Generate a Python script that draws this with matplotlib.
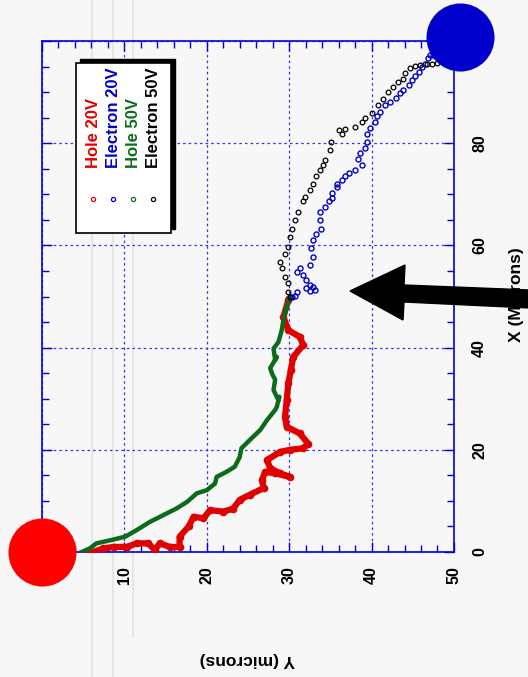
import numpy as np
import matplotlib
matplotlib.use("Agg")
import matplotlib.pyplot as plt
from matplotlib.lines import Line2D
from matplotlib.patches import Polygon, Rectangle
from matplotlib.transforms import Affine2D

plt.rcParams['font.family'] = ['Liberation Sans', 'DejaVu Sans']
plt.rcParams['font.weight'] = 'bold'

# drift paths, (Y, X) in microns
hole20_y = [5.6, 6.2, 7.4, 8.7, 10.3, 11.5, 12.9, 13.7, 14.3, 15.5, 16.7, 16.7, 17.8,
            18.4, 19.6, 20.4, 22.0, 23.2, 24.0, 25.2, 26.9, 26.7, 27.1, 28.3, 30.1,
            28.9, 27.7, 27.3, 28.9, 30.1, 31.7, 32.3, 31.3, 29.7, 29.5, 29.7, 29.9,
            30.2, 30.5, 31.7, 31.3, 29.9, 29.3, 29.9]
hole20_x = [0.0, 0.0, 0.7, 1.0, 1.0, 1.7, 1.7, 0.4, 1.7, 1.0, 1.0, 3.0, 5.0,
            6.9, 6.6, 8.2, 7.9, 8.5, 10.2, 11.2, 12.5, 14.1, 15.7, 15.4, 14.7,
            15.4, 16.4, 18.0, 19.6, 20.0, 20.3, 21.2, 23.2, 24.5, 26.5, 29.7, 33.0,
            35.6, 38.2, 40.5, 42.1, 43.4, 46.0, 49.3]

hole50_y = [4.8, 5.8, 6.6, 8.3, 10.1, 11.5, 13.1, 14.7, 16.3, 17.6, 18.8, 20.0, 21.0,
            21.2, 22.4, 23.4, 24.0, 24.2, 25.4, 26.5, 27.3, 28.3, 28.5, 28.8, 28.7,
            28.1, 28.3, 27.9, 27.7, 28.5, 28.3, 28.1, 28.7, 29.1, 29.3, 29.7, 30.1]
hole50_x = [0.0, 0.7, 1.7, 2.3, 3.0, 4.3, 5.9, 7.2, 8.5, 9.8, 11.5, 12.1, 13.4,
            14.7, 15.7, 16.7, 18.6, 20.3, 22.2, 23.9, 25.8, 27.8, 28.4, 30.4, 29.7,
            31.7, 33.7, 35.0, 36.0, 38.2, 37.6, 39.8, 41.1, 43.4, 45.4, 48.0, 50.0]

elec20_y = [30.3, 30.7, 30.9, 32.1, 32.5, 33.1, 32.9, 32.5, 32.1, 31.7, 30.9, 31.3, 32.5,
            32.9, 32.7, 32.9, 33.3, 33.9, 33.7, 33.7, 34.3, 34.8, 35.2, 35.2, 35.8,
            35.8, 36.4, 36.8, 37.2, 38.0, 38.8, 38.4, 38.6, 39.2, 39.4, 39.4, 39.8,
            40.4, 40.6, 41.0, 41.6, 42.2, 43.0, 43.4, 43.8, 44.5, 44.9, 45.3, 45.7,
            46.1, 46.5, 46.9, 47.1, 47.5]
elec20_x = [50.0, 50.2, 50.9, 51.6, 51.0, 51.3, 51.9, 52.2, 53.2, 54.2, 54.8, 55.5, 56.2,
            57.8, 59.4, 61.0, 62.3, 63.3, 65.0, 66.6, 67.6, 68.6, 69.2, 70.2, 71.5,
            72.1, 72.8, 73.5, 74.1, 74.8, 75.7, 77.0, 78.0, 79.0, 80.3, 81.9, 82.9,
            84.2, 85.3, 86.2, 87.5, 88.1, 88.8, 89.8, 90.4, 91.4, 92.4, 93.1, 94.0,
            95.0, 95.6, 96.6, 97.3, 97.3]

elec50_y = [30.1, 29.9, 29.9, 29.5, 29.1, 28.9, 29.5, 29.9, 30.1, 30.3, 30.7, 31.1, 31.7,
            31.9, 32.5, 32.9, 33.3, 33.7, 34.1, 34.3, 34.9, 35.1, 36.0, 36.4, 36.8,
            38.0, 38.8, 39.2, 40.0, 40.8, 41.4, 42.0, 42.6, 43.2, 43.8, 44.1, 44.7,
            45.3, 45.9, 46.7, 47.3, 47.9]
elec50_x = [50.0, 50.9, 52.6, 53.9, 55.5, 56.8, 58.4, 59.7, 61.7, 63.3, 65.0, 66.6, 68.6,
            69.5, 70.8, 72.1, 73.5, 74.8, 75.7, 76.7, 78.7, 80.3, 82.6, 81.9, 82.8,
            83.1, 84.2, 85.0, 85.9, 87.5, 88.6, 90.1, 91.1, 91.9, 92.6, 93.7, 94.7,
            95.1, 95.3, 95.5, 95.6, 95.7]

# collecting electrodes
anode_pos = (0.0, 0.0)
cathode_pos = (50.7, 100.7)

labels = ['Hole 20V', 'Electron 20V', 'Hole 50V', 'Electron 50V']
colors = ['#e00000', '#0000cc', '#0b6b1b', '#000000']

bg = '#f7f7f7'
blue = '#0000dd'

fig = plt.figure(figsize=(5.28, 6.77), dpi=100, facecolor=bg)
ax = fig.add_axes([0.0795, 0.1846, 0.7803, 0.7548])
ax.set_facecolor('none')

# pixel-space transform (origin top-left)
pix = Affine2D().scale(1 / 528, -1 / 677).translate(0, 1) + fig.transFigure

# faint vertical streaks behind the plot
for xs, y1 in [(92, 677), (113, 677), (133, 636)]:
    fig.add_artist(Line2D([xs, xs], [0, y1], transform=pix, color='#e6e6e6',
                          lw=1.6, zorder=-1))

ax.plot(hole20_y, hole20_x, '-o', color=colors[0], lw=4.5, ms=4.5,
        solid_joinstyle='round', zorder=4)
ax.plot(hole50_y, hole50_x, '-', color=colors[2], lw=3.2,
        solid_joinstyle='round', zorder=4)
ax.plot(elec20_y, elec20_x, 'o', mfc='none', mec=colors[1], ms=3.6, mew=1.0, zorder=4)
ax.plot(elec50_y, elec50_x, 'o', mfc='none', mec=colors[3], ms=3.4, mew=0.9, zorder=4)

ax.set_xlim(0, 50)
ax.set_ylim(0, 100)
ax.set_xticks(np.arange(0, 51, 10))
ax.set_xticks(np.arange(0, 51, 2), minor=True)
ax.set_yticks(np.arange(0, 101, 20))
ax.set_yticks(np.arange(0, 101, 5), minor=True)
ax.yaxis.tick_right()
ax.tick_params(which='both', direction='in', color=blue, top=True, bottom=True,
               left=True, right=True, labelsize=11.5)
ax.tick_params(which='major', length=7, width=1.0)
ax.tick_params(which='minor', length=5, width=1.0)
ax.tick_params(axis='x', labelrotation=90, pad=10)
ax.tick_params(axis='y', labelrotation=90, pad=13)
for lab in ax.get_yticklabels():
    lab.set_va('center')
for s in ax.spines.values():
    s.set_color(blue)
    s.set_linewidth(1.2)
ax.grid(True, which='major', color='#3030ee', ls=(0, (2, 2.5)), lw=0.9)

# legend box with shadow
ax.add_patch(Rectangle((0.0825 + 0.01, 0.624 + 0.008), 0.2306, 0.333,
                       transform=ax.transAxes, facecolor='black', edgecolor='black',
                       zorder=5))
ax.add_patch(Rectangle((0.0825, 0.624), 0.2306, 0.333, transform=ax.transAxes,
                       facecolor='white', edgecolor='black', lw=1.2, zorder=6))
for i, (lab, c) in enumerate(zip(labels, colors)):
    xx = 0.124 + 0.0485 * i
    ax.text(xx, 0.751, lab, transform=ax.transAxes, rotation=90, ha='center',
            va='bottom', color=c, fontsize=12, fontweight='bold', zorder=7)
    ax.plot([xx], [0.691], 'o', transform=ax.transAxes, mfc='none', mec=c,
            ms=3, mew=0.9, zorder=7)

# electrodes
ax.plot(*anode_pos, 'o', color='#ff0000', ms=49, mew=0, clip_on=False, zorder=10)
ax.plot(*cathode_pos, 'o', color='#0000cc', ms=49, mew=0, clip_on=False, zorder=10)

fig.text(517 / 528, 1 - 295 / 677, 'X (Microns)', rotation=90, ha='center',
         va='center', fontsize=12.5, fontweight='bold')
fig.text(247 / 528, 1 - 660 / 677, 'Y (microns)', rotation=180, ha='center',
         va='center', fontsize=12.5, fontweight='bold')

# pointer arrow
arrow = Polygon([(350, 291), (405, 265), (404, 285), (530, 290), (530, 308),
                 (404, 302), (403, 320)], closed=True, transform=pix,
                facecolor='black', edgecolor='black', zorder=8)
fig.add_artist(arrow)

fig.savefig('out.png', dpi=100, facecolor=bg)
